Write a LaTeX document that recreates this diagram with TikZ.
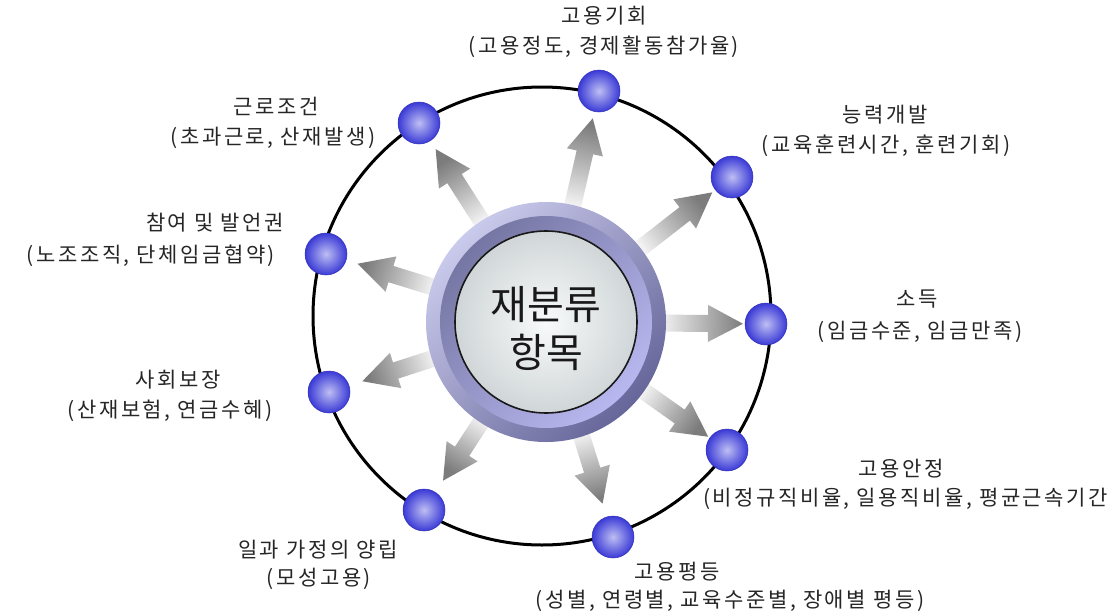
\documentclass[tikz,border=0pt]{standalone}
\usepackage{fontspec}
\newfontfamily\kr{Noto Sans CJK KR}
\newfontfamily\krs[LetterSpace=12]{Noto Sans CJK KR}
\usetikzlibrary{calc}
\definecolor{ringlt}{HTML}{CACAEC}
\definecolor{ringdk}{HTML}{66669A}
\definecolor{bandlt}{HTML}{B8B8F0}
\definecolor{banddk}{HTML}{7676A4}
\definecolor{disclt}{HTML}{F8FAFA}
\definecolor{discdk}{HTML}{D0D6D8}
\definecolor{sphin}{HTML}{BEBEF4}
\definecolor{sphout}{HTML}{3A3AD6}
\definecolor{sphedge}{HTML}{3030B8}
\definecolor{arrgray}{HTML}{7C7C7C}
\begin{document}
\begin{tikzpicture}[x=1pt,y=-1pt,
  lbl/.style={font=\krs\fontsize{21}{24}\selectfont, inner sep=0pt, text=black!85, text height=17pt, text depth=4pt},
  ball/.style={circle, minimum size=42pt, inner sep=0pt, inner color=sphin, outer color=sphout, draw=sphedge, line width=0.5pt},
  orbitstyle/.style={circle, draw=black, line width=3pt, minimum size=458pt, inner sep=0pt},
]
\useasboundingbox (0,0) rectangle (1118,613);
\fill[white] (0,0) rectangle (1118,613);

% orbit
\node[orbitstyle] (orbit) at (542,316) {};

% hub placeholder
\node[circle, minimum size=240pt, inner sep=0pt] (hub) at (546,322) {};

% spheres
\node[ball] (b1) at (419,123) {};
\node[ball] (b2) at (599,91) {};
\node[ball] (b3) at (732,177) {};
\node[ball] (b4) at (766,324) {};
\node[ball] (b5) at (727,450) {};
\node[ball] (b6) at (613,537) {};
\node[ball] (b7) at (424,510) {};
\node[ball] (b8) at (329,392) {};
\node[ball] (b9) at (326,254) {};

% arrows
\foreach \b/\d in {b1/31pt,b2/28pt,b3/25pt,b4/23pt,b5/23pt,b6/35pt,b7/35pt,b8/35pt,b9/33pt} {
  \coordinate (t-\b) at ($(hub.center)!106pt!(\b)$);
  \coordinate (h-\b) at ($(\b)!\d!(hub.center)$);
  \coordinate (n-\b) at ($(h-\b)!35pt!(t-\b)$);
  \path let \p1=($(h-\b)-(t-\b)$), \n1={atan2(\y1,\x1)-90} in \pgfextra{\xdef\shang{\n1}};
  \shade[bottom color=white, top color=arrgray, shading angle=\shang]
    ($(t-\b)!8.5pt!90:(h-\b)$) -- ($(n-\b)!8.5pt!90:(h-\b)$) -- ($(n-\b)!18.5pt!90:(h-\b)$)
    -- (h-\b)
    -- ($(n-\b)!18.5pt!-90:(h-\b)$) -- ($(n-\b)!8.5pt!-90:(h-\b)$) -- ($(t-\b)!8.5pt!-90:(h-\b)$) -- cycle;
}

% hub rings
\shade[top color=ringlt, bottom color=ringdk, shading angle=45] (hub.center) circle (120);
\shade[top color=banddk, bottom color=bandlt, shading angle=45] (hub.center) circle (106);
\shade[inner color=disclt, outer color=discdk] (hub.center) circle (91);
\draw[black!90, line width=1.6pt] (hub.center) circle (91);

\node[font=\kr\fontsize{40}{48}\selectfont, align=center, text=black!90, inner sep=0pt] (title) at (546,329) {재분류\\항목};

% labels
\node[lbl] (l1) at (604,17) {고용기회};
\node[lbl] (s1) at (604,47) {(고용정도, 경제활동참가율)};
\node[lbl] (l2) at (276,108) {근로조건};
\node[lbl] (s2) at (273,138) {(초과근로, 산재발생)};
\node[lbl] (l3) at (885,116) {능력개발};
\node[lbl] (s3) at (886,146) {(교육훈련시간, 훈련기회)};
\node[lbl] (l4) at (215,224) {참여 및 발언권};
\node[lbl] (s4) at (151,256) {(노조조직, 단체임금협약)};
\node[lbl] (l5) at (917,300) {소득};
\node[lbl] (s5) at (920,332) {(임금수준, 임금만족)};
\node[lbl] (l6) at (178,381) {사회보장};
\node[lbl] (s6) at (170,411) {(산재보험, 연금수혜)};
\node[lbl] (l7) at (901,470) {고용안정};
\node[lbl, anchor=west] (s7) at (703,499) {(비정규직비율, 일용직비율, 평균근속기간};
\node[lbl] (l8) at (318,551) {일과 가정의 양립};
\node[lbl] (s8) at (319,579) {(모성고용)};
\node[lbl] (l9) at (677,573) {고용평등};
\node[lbl] (s9) at (730,601) {(성별, 연령별, 교육수준별, 장애별 평등)};
\end{tikzpicture}
\end{document}
